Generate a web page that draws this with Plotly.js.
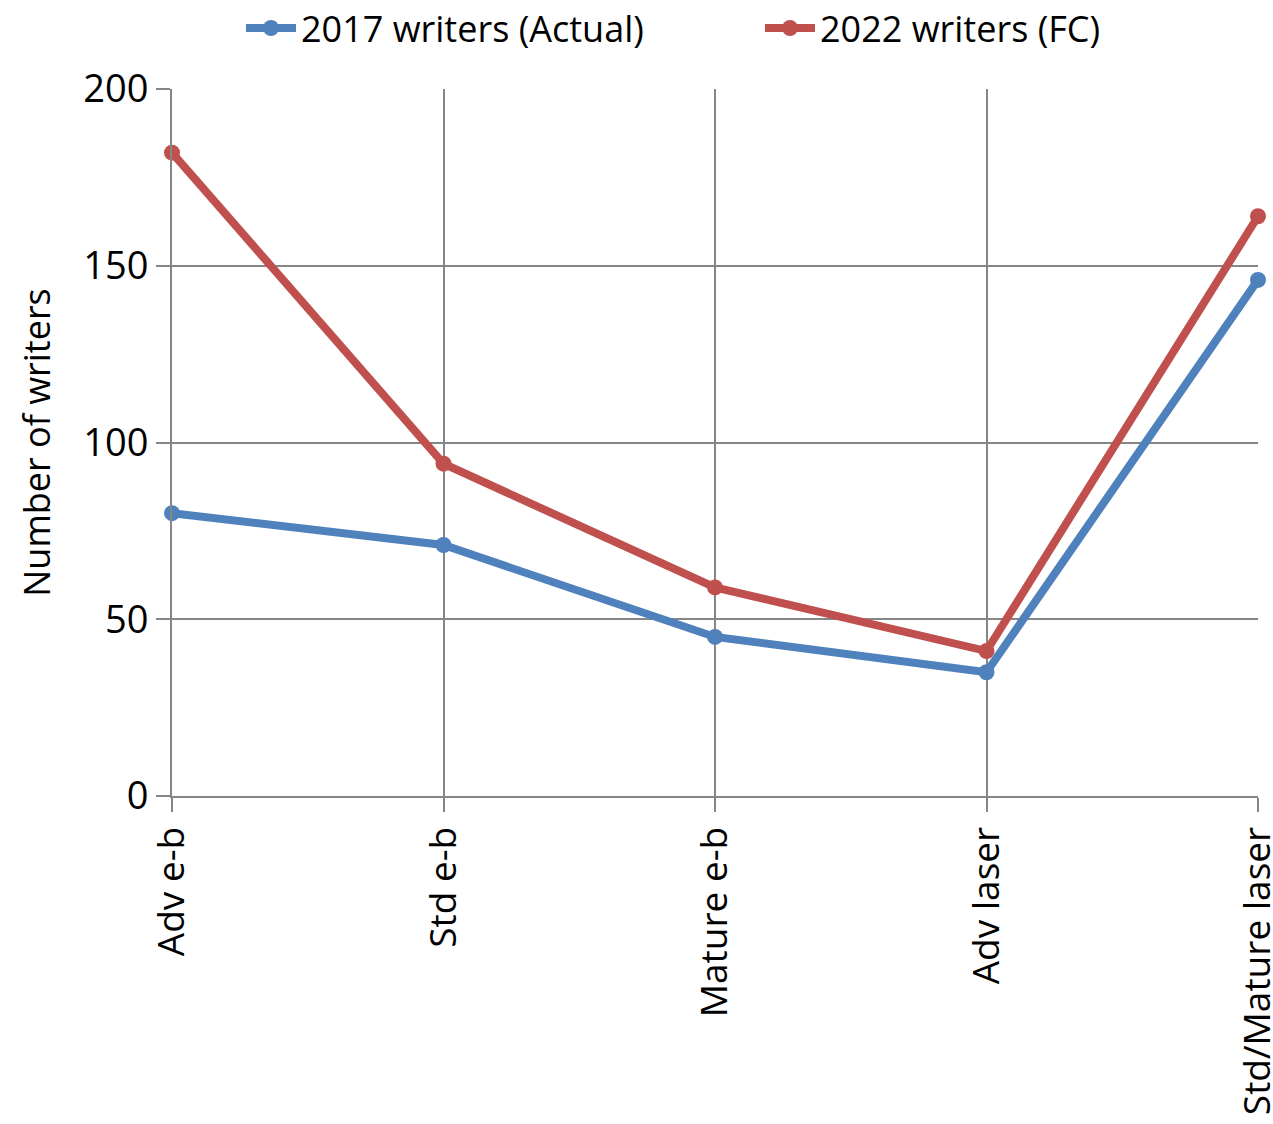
<!DOCTYPE html>
<html>
<head>
<meta charset="utf-8">
<script src="https://cdn.plot.ly/plotly-3.0.1.min.js"></script>
<style>html,body{margin:0;padding:0;background:#fff;}#chart{width:1273px;height:1124px;}</style>
</head>
<body>
<div id="chart"></div>
<script>
var categories = ["Adv e-b", "Std e-b", "Mature e-b", "Adv laser", "Std/Mature laser"];
var writers2017 = [80, 71, 45, 35, 146];
var writers2022 = [182, 94, 59, 41, 164];
var seriesNames = ["2017 writers (Actual)", "2022 writers (FC)"];
var yTicks = [0, 50, 100, 150, 200];

var FONT = "Open Sans, Noto Sans, sans-serif";
var traces = [
  {x: categories, y: writers2017, name: seriesNames[0], type: "scatter", mode: "lines+markers",
   line: {color: "#4F81BD", width: 8}, marker: {color: "#4F81BD", size: 16}, cliponaxis: false},
  {x: categories, y: writers2022, name: seriesNames[1], type: "scatter", mode: "lines+markers",
   line: {color: "#C0504D", width: 8}, marker: {color: "#C0504D", size: 16}, cliponaxis: false}
];
var layout = {
  width: 1273, height: 1124,
  margin: {l: 172, r: 15, t: 89, b: 328, autoexpand: false},
  paper_bgcolor: "#fff", plot_bgcolor: "#fff",
  font: {family: FONT, color: "#000", size: 36},
  showlegend: true,
  legend: {orientation: "h", xref: "container", yref: "container", x: 0.597, xanchor: "center",
           y: 0.975, yanchor: "middle", entrywidth: 454,
           font: {size: 36, family: FONT}, traceorder: "normal", itemwidth: 50},
  xaxis: {type: "category", range: [0, 4], showgrid: true, gridcolor: "#868686", gridwidth: 2,
          showline: true, linecolor: "#868686", linewidth: 2, ticks: "outside", ticklen: 14,
          tickcolor: "#868686", tickwidth: 2, tickangle: -90, tickfont: {size: 37, family: FONT},
          zeroline: false, fixedrange: true},
  yaxis: {range: [0, 200], tickvals: yTicks, showgrid: true, gridcolor: "#868686", gridwidth: 2,
          showline: true, linecolor: "#868686", linewidth: 2, ticks: "outside", ticklen: 14,
          tickcolor: "#868686", tickwidth: 2, tickfont: {size: 38, family: FONT}, zeroline: false,
          title: {text: "Number of writers", font: {size: 36, family: FONT}, standoff: 22}, fixedrange: true}
};
Plotly.newPlot("chart", traces, layout, {displayModeBar: false, staticPlot: true});
</script>
</body>
</html>
